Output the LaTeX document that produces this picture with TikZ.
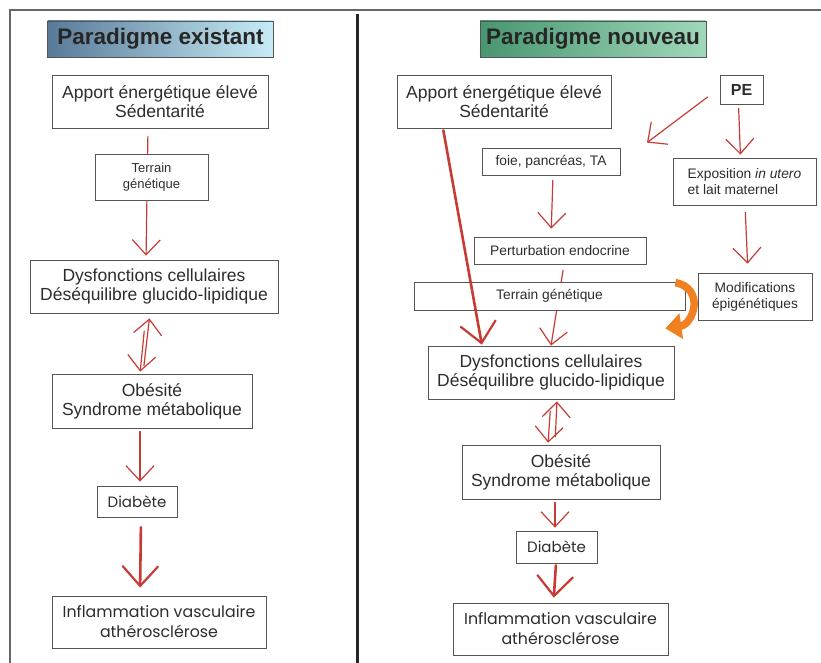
\documentclass[tikz,border=0pt]{standalone}
\usepackage{fontspec}
\setmainfont{Liberation Sans}
\newfontfamily\comicfont{Poppins}
\usetikzlibrary{arrows.meta,backgrounds}
\definecolor{arrred}{RGB}{200,58,52}
\definecolor{boxgray}{RGB}{85,85,85}
\definecolor{txtgray}{RGB}{45,45,45}
\definecolor{arcorange}{RGB}{240,128,32}
\begin{document}
\begin{tikzpicture}[x=1pt, y=-1pt, font=\fontsize{17.5}{19}\selectfont, text=txtgray]
            \def\fsmall{\fontsize{13.8}{16}\selectfont}
            \tikzset{mybox/.style={rectangle, draw=boxgray, line width=0.8pt, fill=white,
                inner sep=0pt, align=center, text centered},
                mytitle/.style={rectangle, draw=boxgray, line width=0.8pt, inner sep=0pt,
                minimum width=226, minimum height=36, font=\fontsize{22.5}{24}\selectfont\bfseries, text=black!85},
                redarr/.style={draw=arrred, line width=1.2pt, line cap=round,
                -{Straight Barb[length=15pt, width=28pt, line width=1.2pt]}},
                bigarr/.style={draw=arrred, line width=2.6pt, line cap=round,
                -{Straight Barb[length=20pt, width=36pt, line width=2.2pt]}}}
        \useasboundingbox (0,0) rectangle (821,663);

        % frame
        \draw[black!60, line width=1.5pt] (10,663) -- (10,10) -- (821,10);
        \draw[black!85, line width=3pt] (357,14) -- (357,663);

        % existing paradigm
        \node[mytitle, left color={rgb,255:red,88;green,122;blue,152}, right color={rgb,255:red,200;green,236;blue,246}] (titleL) at (160.5,39) {Paradigme existant};
        \node[mybox, minimum width=216, minimum height=53] (apL) at (160,101.5) {Apport énergétique élevé\\Sédentarité};
        \node[mybox, minimum width=113, minimum height=46, font=\fontsize{13}{16}\selectfont] (terL) at (151.5,177) {Terrain\\génétique};
        \node[mybox, minimum width=248, minimum height=53] (dysL) at (154,286.5) {Dysfonctions cellulaires\\Déséquilibre glucido-lipidique};
        \node[mybox, minimum width=200, minimum height=54] (obeL) at (152,401) {Obésité\\Syndrome métabolique};
        \node[mybox, minimum width=80, minimum height=31, font=\comicfont\fontsize{15}{17}\selectfont] (diaL) at (137,501.5) {Diabète};
        \node[mybox, minimum width=214, minimum height=52, font=\comicfont\fontsize{15.8}{20}\selectfont] (infL) at (159,622) {Inflammation vasculaire\\athérosclérose};

        % new paradigm
        \node[mytitle, left color={rgb,255:red,72;green,150;blue,112}, right color={rgb,255:red,160;green,216;blue,186}] (titleR) at (593,39) {Paradigme nouveau};
        \node[mybox, minimum width=214, minimum height=53] (apR) at (504,101.5) {Apport énergétique élevé\\Sédentarité};
        \node[mybox, minimum width=43, minimum height=29, font=\fontsize{16}{18}\selectfont\bfseries] (pe) at (741.5,89.5) {PE};
        \node[mybox, minimum width=138, minimum height=27, font=\fsmall] (foie) at (551,161.5) {foie, pancréas, TA};
        \node[mybox, minimum width=143, minimum height=47, font=\fsmall, align=left] (expo) at (744.5,181.5) {Exposition \textit{in utero}\\et lait maternel};
        \node[mybox, minimum width=172, minimum height=27, font=\fsmall] (pert) at (560,250.5) {Perturbation endocrine};
        \node[mybox, minimum width=271, minimum height=28, font=\fsmall] (terR) at (549.5,296) {Terrain génétique};
        \node[mybox, minimum width=114, minimum height=47, font=\fsmall] (modif) at (755,296.5) {Modifications\\épigénétiques};
        \node[mybox, minimum width=246, minimum height=53] (dysR) at (551,372.5) {Dysfonctions cellulaires\\Déséquilibre glucido-lipidique};
        \node[mybox, minimum width=198, minimum height=54] (obeR) at (561,472) {Obésité\\Syndrome métabolique};
        \node[mybox, minimum width=81, minimum height=32, font=\comicfont\fontsize{15}{17}\selectfont] (diaR) at (556.5,547) {Diabète};
        \node[mybox, minimum width=215, minimum height=52, font=\comicfont\fontsize{15.8}{20}\selectfont] (infR) at (560.5,629) {Inflammation vasculaire\\athérosclérose};

        \begin{pgfonlayer}{background}
        \draw[redarr, shorten <=8pt, shorten >=4pt] ([xshift=-12pt]apL.south) to ([xshift=-8pt]dysL.north);
        \draw[redarr, shorten <=6pt] ([xshift=4pt]pert.south) to ([xshift=0pt]dysR.north);
        \end{pgfonlayer}

        \draw[redarr, shorten <=8pt, shorten >=5pt] ([xshift=-9pt]obeL.north) to ([xshift=-4pt]dysL.south);
        \draw[redarr, shorten <=18pt, shorten >=2pt] ([xshift=-8pt]dysL.south) to ([xshift=-12pt]obeL.north);
        \draw[redarr, shorten <=3pt, shorten >=4pt] ([xshift=-12pt]obeL.south) to ([xshift=3pt]diaL.north);
        \draw[bigarr, shorten <=10pt, shorten >=8pt] ([xshift=4pt]diaL.south) to ([xshift=-19pt]infL.north);

        \draw[bigarr, shorten <=2pt, shorten >=1pt] ([xshift=-61pt]apR.south) to ([xshift=-69pt]dysR.north);
        \draw[redarr] ([xshift=-12pt, yshift=-7.5pt]pe.west) to ([xshift=96pt, yshift=5pt]foie.north);
        \draw[redarr, shorten <=4pt, shorten >=3pt] ([xshift=-3pt]pe.south) to ([xshift=-4pt]expo.north);
        \draw[redarr, shorten <=5pt, shorten >=8pt] ([xshift=2pt]foie.south) to ([xshift=-9pt]pert.north);
        \draw[redarr, shorten <=7pt, shorten >=9pt] ([xshift=0.5pt]expo.south) to ([xshift=-7pt]modif.north);
        \draw[redarr, shorten <=8pt, shorten >=2pt] ([xshift=-6pt]obeR.north) to ([xshift=6pt]dysR.south);
        \draw[redarr, shorten <=12pt, shorten >=2pt] ([xshift=0pt]dysR.south) to ([xshift=-13pt]obeR.north);
        \draw[redarr, shorten <=3pt, shorten >=3pt] ([xshift=-6pt]obeR.south) to ([xshift=-1.5pt]diaR.north);
        \draw[bigarr, shorten <=2pt, shorten >=5pt] ([xshift=-0.5pt]diaR.south) to ([xshift=-7pt]infR.north);

        \draw[arcorange, line width=7.5pt, -{Triangle[length=16pt, width=25pt]}] ([xshift=-10pt, yshift=-1pt]terR.north east)
            .. controls +(30,6) and +(28,-4) .. ([xshift=-20pt, yshift=-18pt]terR.south east);

        \end{tikzpicture}
\end{document}
